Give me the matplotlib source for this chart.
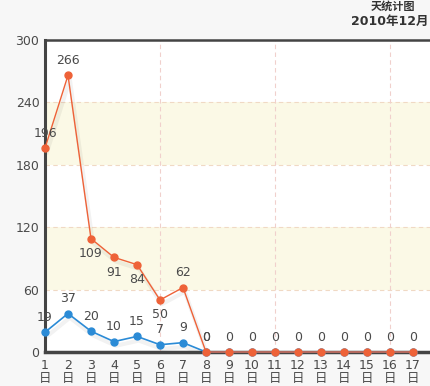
import matplotlib
matplotlib.use("Agg")
import matplotlib.pyplot as plt

days = list(range(1, 18))
day_labels = [str(d) for d in days]
day_suffix = ["日"] * len(days)
orange_vals = [196, 266, 109, 91, 84, 50, 62, 0, 0, 0, 0, 0, 0, 0, 0, 0, 0]
blue_vals = [19, 37, 20, 10, 15, 7, 9, 0, 0, 0, 0, 0, 0, 0, 0, 0, 0]
orange_label_pos = ["above", "above", "below", "below", "below", "below", "above"] + ["above"] * 10
yticks = [0, 60, 120, 180, 240, 300]
title1 = "天统计图"
title2 = "2010年12月"

plt.rcParams['font.family'] = ['DejaVu Sans', 'Noto Sans CJK SC']
fig = plt.figure(figsize=(4.3, 3.86), dpi=100, facecolor='#f7f7f7')
ax = fig.add_axes([45/430, 1-352/386, 1-45/430, (352-40)/386])
ax.set_facecolor('white')
ax.set_xlim(1, 1 + (430-45)/23)
ax.set_ylim(0, 300)

# bands
for lo, hi in [(60, 120), (180, 240)]:
    ax.axhspan(lo, hi, color='#fbf9e6', zorder=0, lw=0)
for y in [60, 120, 180, 240]:
    ax.axhline(y, color='#f0d9c4', ls=(0, (4, 3)), lw=0.8, zorder=1)
for x in [6, 11, 16]:
    ax.axvline(x, color='#f0d0cc', ls=(0, (4, 3)), lw=0.8, zorder=1)

oc = '#ee6238'
bc = '#2b8bd6'
# shadows
ax.plot([d + 0.08 for d in days], [v - 4 for v in orange_vals], color='#000000', alpha=0.05, lw=3, zorder=2)
ax.plot([d + 0.08 for d in days], [v - 4 for v in blue_vals], color='#000000', alpha=0.05, lw=3, zorder=2)
ax.plot(days, blue_vals, color=bc, lw=1.2, marker='o', ms=5, zorder=3, clip_on=False)
ax.plot(days, orange_vals, color=oc, lw=1.0, marker='o', ms=5, zorder=4, clip_on=False)

tc = '#4a4a4a'
fs = 9
for d, v in zip(days[:8], blue_vals[:8]):
    ax.annotate(str(v), (d, v), xytext=(0, 6), textcoords='offset points', ha='center', va='bottom',
                fontsize=fs, color=tc, zorder=6, annotation_clip=False)
for d, v, p in zip(days, orange_vals, orange_label_pos):
    if p == "above":
        ax.annotate(str(v), (d, v), xytext=(0, 6), textcoords='offset points', ha='center', va='bottom',
                    fontsize=fs, color=tc, zorder=6, annotation_clip=False)
    else:
        ax.annotate(str(v), (d, v), xytext=(0, -6), textcoords='offset points', ha='center', va='top',
                    fontsize=fs, color=tc, zorder=6, annotation_clip=False)

ax.set_yticks(yticks)
ax.set_yticklabels([str(y) for y in yticks], fontsize=fs, color=tc)
ax.xaxis.remove_overlapping_locs = False
ax.set_xticks(days)
ax.set_xticklabels(day_labels, fontsize=fs, color=tc)
ax.set_xticks(days, minor=True)
ax.set_xticklabels(day_suffix, minor=True, fontsize=fs, color=tc, family=['Noto Sans CJK SC'])
ax.tick_params(axis='x', which='major', length=0, pad=5)
ax.tick_params(axis='x', which='minor', length=0, pad=14.5)
ax.tick_params(axis='y', length=0, pad=4)

for s in ['left', 'bottom', 'top']:
    ax.spines[s].set_color('#444444')
ax.spines['left'].set_linewidth(2.2)
ax.spines['bottom'].set_linewidth(2.5)
ax.spines['top'].set_linewidth(1.8)
ax.spines['right'].set_visible(False)

fig.text(415/430, 1-6/386, title1, ha='right', va='center', fontsize=8, fontweight='bold', color='#333333',
         family=['Noto Sans CJK SC', 'DejaVu Sans'])
fig.text(428/430, 1-21/386, title2, ha='right', va='center', fontsize=9, fontweight='bold', color='#333333',
         family=['DejaVu Sans', 'Noto Sans CJK SC'])

fig.savefig('out.png', dpi=100, facecolor=fig.get_facecolor())
